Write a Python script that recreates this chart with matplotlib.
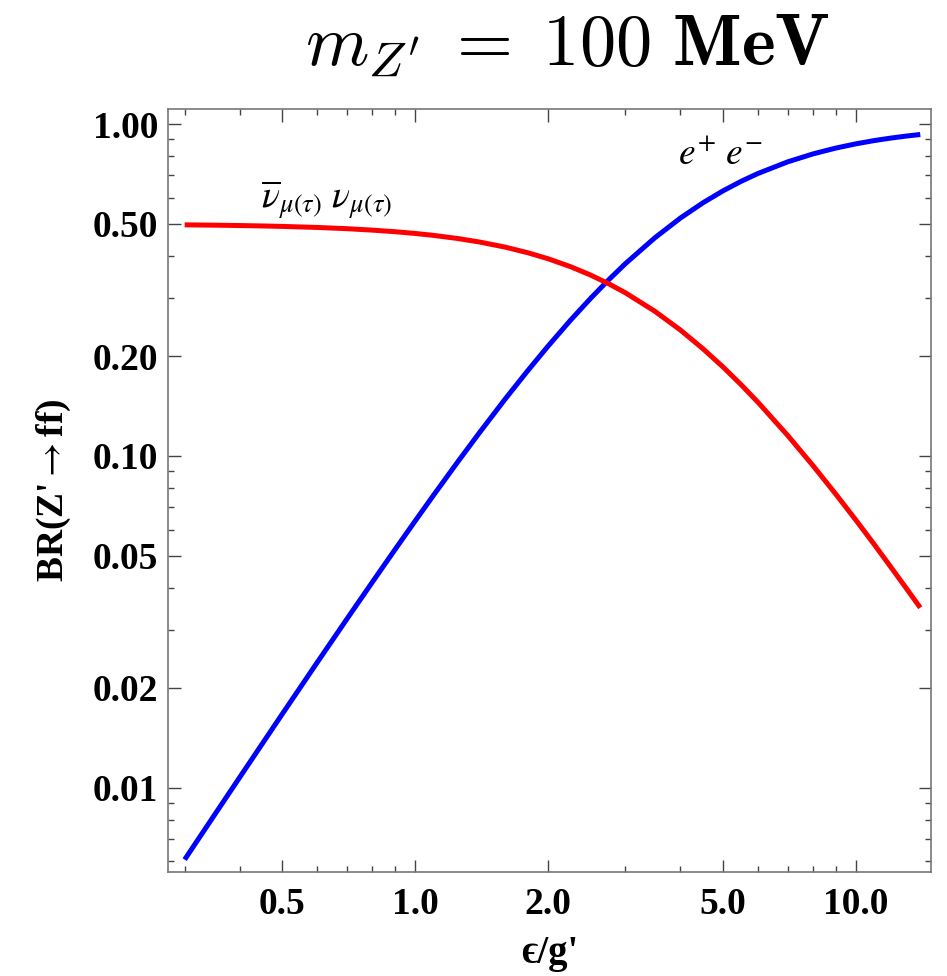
import matplotlib
matplotlib.use("Agg")
import matplotlib.pyplot as plt
from matplotlib.ticker import FixedLocator, FixedFormatter, LogLocator, NullFormatter

plt.rcParams['font.family'] = ['Liberation Serif', 'DejaVu Serif']
plt.rcParams['mathtext.fontset'] = 'stix'

# values
eps_over_g = [0.3, 0.35, 0.4, 0.45, 0.5, 0.6, 0.7, 0.8, 0.9, 1.0, 1.1, 1.25, 1.4, 1.6, 1.8,
              2.0, 2.25, 2.5, 2.75, 3.0, 3.5, 4.0, 4.5, 5.0, 5.5, 6.0, 7.0, 8.0, 9.0, 10.0,
              11.0, 12.0, 13.0, 14.0]
br_ee = [0.00608, 0.00826, 0.01076, 0.01358, 0.01672, 0.02390, 0.03225, 0.04170, 0.05220,
         0.06367, 0.07603, 0.09605, 0.1176, 0.1483, 0.1805, 0.2138, 0.2561, 0.2982, 0.3396,
         0.3797, 0.4544, 0.5211, 0.5793, 0.6296, 0.6729, 0.7100, 0.7692, 0.8132, 0.8463,
         0.8718, 0.8916, 0.9073, 0.9199, 0.9302]
br_nunu = [0.4970, 0.4959, 0.4946, 0.4932, 0.4916, 0.4881, 0.4839, 0.4791, 0.4739, 0.4682,
           0.4620, 0.4520, 0.4412, 0.4259, 0.4097, 0.3931, 0.3720, 0.3509, 0.3302, 0.3102,
           0.2728, 0.2395, 0.2103, 0.1852, 0.1636, 0.1450, 0.1154, 0.0934, 0.0768, 0.0641,
           0.0542, 0.0463, 0.0400, 0.0349]

xticks = [0.5, 1.0, 2.0, 5.0, 10.0]
xtick_labels = ["0.5", "1.0", "2.0", "5.0", "10.0"]
yticks = [0.01, 0.02, 0.05, 0.10, 0.20, 0.50, 1.00]
ytick_labels = ["0.01", "0.02", "0.05", "0.10", "0.20", "0.50", "1.00"]

fig = plt.figure(figsize=(9.47, 9.76), dpi=100)
ax = fig.add_axes([0.1774, 0.1066, 0.8056, 0.7817])

ax.plot(eps_over_g, br_ee, color="#0000ff", lw=3.6, solid_capstyle="butt")
ax.plot(eps_over_g, br_nunu, color="#ff0000", lw=3.6, solid_capstyle="butt")

ax.set_xscale("log")
ax.set_yscale("log")
ax.set_xlim(0.275, 14.8)
ax.set_ylim(0.00558, 1.11)

ax.xaxis.set_major_locator(FixedLocator(xticks))
ax.xaxis.set_major_formatter(FixedFormatter(xtick_labels))
ax.yaxis.set_major_locator(FixedLocator(yticks))
ax.yaxis.set_major_formatter(FixedFormatter(ytick_labels))
ax.xaxis.set_minor_locator(LogLocator(base=10, subs=range(1, 10), numticks=20))
ax.yaxis.set_minor_locator(LogLocator(base=10, subs=range(1, 10), numticks=20))
ax.xaxis.set_minor_formatter(NullFormatter())
ax.yaxis.set_minor_formatter(NullFormatter())

ax.tick_params(which="both", direction="in", top=True, right=True, color="#444444", width=1)
ax.tick_params(which="major", length=9, labelsize=27)
ax.tick_params(axis="x", which="major", pad=11)
ax.tick_params(axis="y", which="major", pad=7)
ax.tick_params(which="minor", length=4.5)
for lab in ax.get_xticklabels() + ax.get_yticklabels():
    lab.set_fontweight("bold")
for sp in ax.spines.values():
    sp.set_color("#777777")
    sp.set_linewidth(1.2)

ax.set_xlabel("\u03f5/g'", fontsize=28, fontweight="bold", labelpad=9)
ax.set_ylabel(r"BR(Z'$\rightarrow$ff)", fontsize=27, fontweight="bold", labelpad=14)

ax.text(4.92, 0.806, r"$e^{+}\ e^{-}$", fontsize=27, ha="center", va="center")
ax.text(0.63, 0.594, r"$\overline{\nu}_{\mu(\tau)}\ \nu_{\mu(\tau)}$", fontsize=27,
        ha="center", va="center")

fig.text(0.599, 0.952, r"$m_{Z^{\prime}}\;=\;\mathbf{100\ MeV}$", fontsize=52,
         ha="center", va="center", math_fontfamily="cm")

fig.savefig("out.png", dpi=100)
